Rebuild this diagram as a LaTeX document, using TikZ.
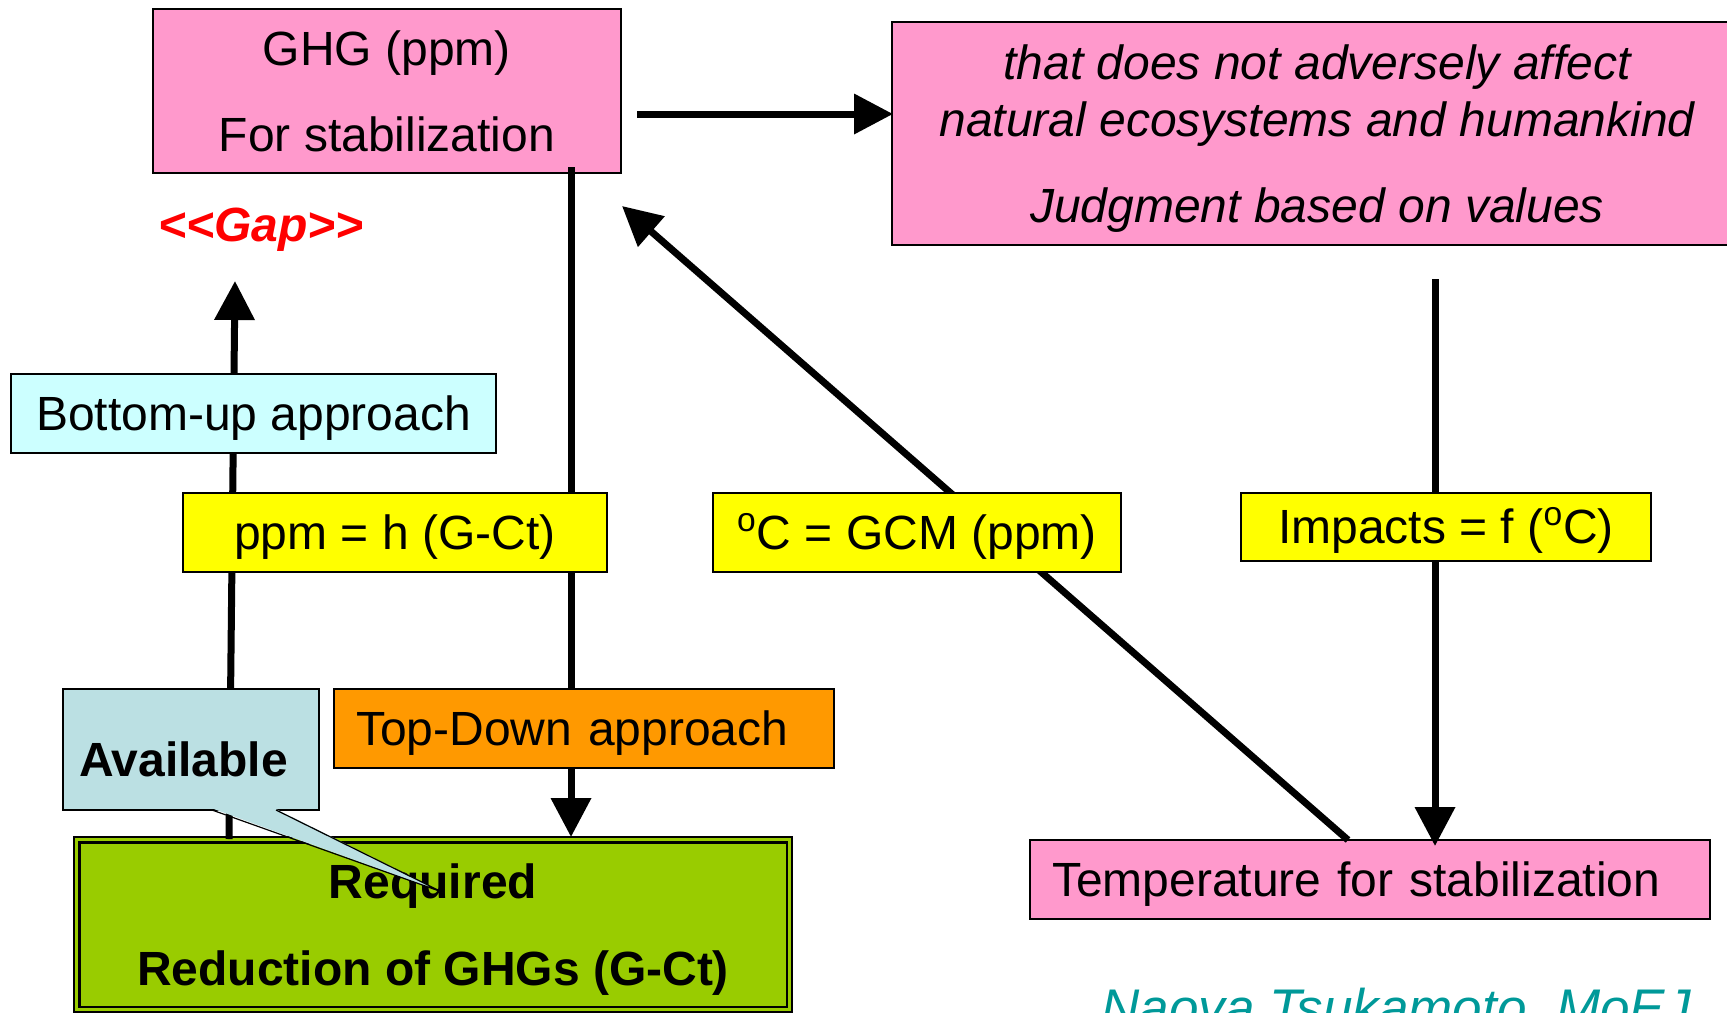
\documentclass[tikz,border=0pt]{standalone}
\usepackage{fontspec}
\setmainfont{Liberation Sans}
\usetikzlibrary{arrows.meta}
\definecolor{pinkbox}{HTML}{FF99CC}
\definecolor{cyanbox}{HTML}{CCFFFF}
\definecolor{yellowbox}{HTML}{FFFF00}
\definecolor{availbox}{HTML}{BBE0E3}
\definecolor{orangebox}{HTML}{FF9900}
\definecolor{greenbox}{HTML}{99CC00}
\definecolor{gapred}{HTML}{FF0000}
\definecolor{creditteal}{HTML}{009999}
\begin{document}
\begin{tikzpicture}[x=0.5pt,y=-0.5pt,
  box/.style={draw=black,line width=0.6pt,inner sep=0pt,font=\fontsize{24}{28.8}\selectfont},
  oneline/.style={text height=16.8pt,text depth=0pt},
  conn/.style={line width=3.5pt,-{Triangle[length=19.5pt,width=19.5pt]}}]
\useasboundingbox (0,0) rectangle (1727,1012);

% main boxes (under the connectors)
\node[box,fill=pinkbox,minimum width=234pt,minimum height=82pt,align=center,text depth=-5pt,
      font=\fontsize{24}{43}\selectfont] (ghg) at (387,91) {GHG (ppm)\\For stabilization};
\node[box,fill=pinkbox,minimum width=425pt,minimum height=111.5pt,align=center,text depth=-2.5pt,
      font=\fontsize{24}{28.5}\selectfont\itshape] (val) at (1317,133.5)
      {that does not adversely affect\\natural ecosystems and humankind\\[14.5pt]Judgment based on values};
\node[box,fill=greenbox,minimum width=359pt,minimum height=87.5pt,align=center,text depth=-5pt,
      font=\fontsize{24}{43.5}\selectfont\bfseries] (green) at (433,924.5)
      {Required\\Reduction of GHGs (G-Ct)};
\draw[line width=1.1pt] ([shift={(3pt,-3pt)}]green.north west) rectangle ([shift={(-3pt,3pt)}]green.south east);
\node[box,oneline,fill=pinkbox,minimum width=340pt,minimum height=39.5pt,text width=318pt,inner xsep=11pt,align=left]
      (temp) at (1370,879.5) {Temperature for stabilization};

% connector end points
\coordinate (ghgout) at (637,114);
\coordinate (valin) at (893,114);
\coordinate (ghgdown) at (571,167);
\coordinate (greentop) at (571,837);
\coordinate (greenleft) at (229,839);
\coordinate (gapbelow) at (235,281);
\coordinate (tempdiag) at (1348,840);
\coordinate (ghgcorner) at (622,206);
\coordinate (valbelow) at (1435,279);
\coordinate (temptop) at (1435,846);

% connectors
\draw[conn] (ghgout) -- (valin);
\draw[conn] (ghgdown) -- (greentop);
\draw[conn] (greenleft) -- (gapbelow);
\draw[conn] (tempdiag) -- (ghgcorner);
\draw[conn] (valbelow) -- (temptop);

% label boxes (over the connectors)
\node[box,oneline,fill=cyanbox,minimum width=242.5pt,minimum height=39.5pt] (bottomup) at (253.5,413.5) {Bottom-up approach};
\node[box,oneline,fill=yellowbox,minimum width=212pt,minimum height=39.5pt] (ppm) at (395,532.5) {ppm = h (G-Ct)};
\node[box,oneline,fill=yellowbox,minimum width=204pt,minimum height=39.5pt] (gcm) at (917,532.5) {\textsuperscript{o}C = GCM (ppm)};
\node[box,oneline,fill=yellowbox,minimum width=205pt,minimum height=34pt] (impacts) at (1446,527) {Impacts = f (\textsuperscript{o}C)};
\node[box,oneline,fill=orangebox,minimum width=250pt,minimum height=39.5pt,text width=228pt,inner xsep=11pt,align=left]
      (topdown) at (584,728.5) {Top-Down approach};

% callout "Available"
\node[box,fill=availbox,minimum width=128pt,minimum height=60.5pt,text width=112pt,inner xsep=8pt,align=left,
      text height=27pt,text depth=0pt,font=\fontsize{24}{28.8}\selectfont\bfseries] (avail) at (191,749.5) {Available};
\fill[availbox] (212.8,808.6) -- (275.2,808.6) -- (442,892) -- cycle;
\draw[line width=0.6pt,line join=miter] (212,810) -- (442,892) -- (276,810);

% free texts
\node[text=gapred,text depth=0pt,font=\fontsize{24}{28.8}\selectfont\bfseries\itshape] (gap) at (261,225) {<\kern0pt<Gap>\kern0pt>};
\node[anchor=base west,text=creditteal,inner sep=0pt,font=\fontsize{26.5}{30}\selectfont\itshape] (credit) at (1101,1026) {Naoya Tsukamoto, MoEJ};
\end{tikzpicture}
\end{document}
